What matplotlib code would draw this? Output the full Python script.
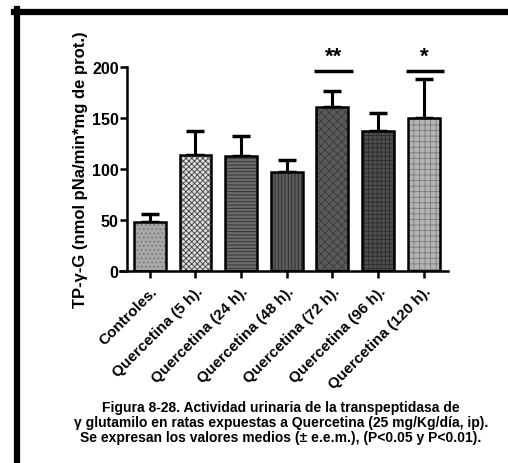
import numpy as np
import matplotlib
matplotlib.use("Agg")
import matplotlib.pyplot as plt
from matplotlib.lines import Line2D

plt.rcParams['font.family'] = ['Liberation Sans', 'DejaVu Sans']
plt.rcParams['font.weight'] = 'bold'
plt.rcParams['hatch.linewidth'] = 0.6

grupos = ["Controles.", "Quercetina (5 h).", "Quercetina (24 h).", "Quercetina (48 h).",
          "Quercetina (72 h).", "Quercetina (96 h).", "Quercetina (120 h)."]
medias = [48, 114, 113, 97, 161, 137, 150]
eem = [8, 23, 19, 12, 15, 18, 38]

# relleno y trama de cada barra
fondos = ['#a8a8a8', '#dcdcdc', '#6a6a6a', '#5c5c5c', '#5a5a5a', '#4e4e4e', '#b4b4b4']
lineas = ['#707070', '#404040', '#303030', '#2a2a2a', '#3a3a3a', '#2c2c2c', '#7a7a7a']
tramas = ['....', 'xxxxxx', '-----', '|||||', 'xxxx', '++++', '+++']

signif = {4: '**', 6: '*'}
altura_signif = 196

fig = plt.figure(figsize=(5.08, 4.64), dpi=100)
ax = fig.add_axes([127/508, 1-272/464, (448-127)/508, (272-68)/464])

x = np.arange(len(grupos))
for i in x:
    ax.bar(i, medias[i], width=0.7, color=fondos[i], edgecolor=lineas[i],
           hatch=tramas[i], linewidth=0, zorder=2)
    ax.bar(i, medias[i], width=0.7, fill=False, edgecolor='black', linewidth=1.8, zorder=3)

ax.errorbar(x, medias, yerr=[np.zeros(len(eem)), eem], fmt='none', ecolor='black',
            elinewidth=2.2, capsize=6.5, capthick=2.5, zorder=1)

for i, s in signif.items():
    ax.plot([i - 0.4, i + 0.45], [altura_signif, altura_signif], color='black',
            lw=2.5, clip_on=False, solid_capstyle='butt')
    ax.text(i + 0.02, altura_signif + 4, s, ha='center', va='bottom',
            fontsize=16, fontweight='bold', clip_on=False)

ax.set_xlim(-0.5, 6.53)
ax.set_ylim(0, 200)
ax.set_yticks([0, 50, 100, 150, 200])
ax.set_xticks(x)
ax.set_xticklabels(grupos, rotation=45, ha='right', rotation_mode='anchor',
                   fontsize=11, fontweight='bold')
ax.tick_params(axis='y', labelsize=11.5, width=1.8, length=5, pad=1)
ax.tick_params(axis='x', width=1.8, length=5, pad=4)
for lbl in ax.get_yticklabels():
    lbl.set_fontweight('bold')
for side in ['top', 'right']:
    ax.spines[side].set_visible(False)
for side in ['left', 'bottom']:
    ax.spines[side].set_linewidth(1.8)
ax.spines['bottom'].set_bounds(-0.65, 6.53)

ax.set_ylabel("TP-γ-G (nmol pNa/min*mg de prot.)", fontsize=12,
              fontweight='bold', labelpad=4)
ax.yaxis.set_label_coords(-0.122, 0.5)

pie = ("Figura 8-28. Actividad urinaria de la transpeptidasa de\n"
       "γ glutamilo en ratas expuestas a Quercetina (25 mg/Kg/día, ip).\n"
       "Se expresan los valores medios (± e.e.m.), (P<0.05 y P<0.01).")
fig.text(281/508, 1-423/464, pie, ha='center', va='center', fontsize=10,
         fontweight='bold', linespacing=1.1)

# marco
fig.add_artist(Line2D([17/508, 17/508], [0, 1-10/464], color='black', lw=4.5))
fig.add_artist(Line2D([14/508, 1], [1-12.5/464, 1-12.5/464], color='black', lw=4.5))

fig.savefig("out.png", dpi=100)
